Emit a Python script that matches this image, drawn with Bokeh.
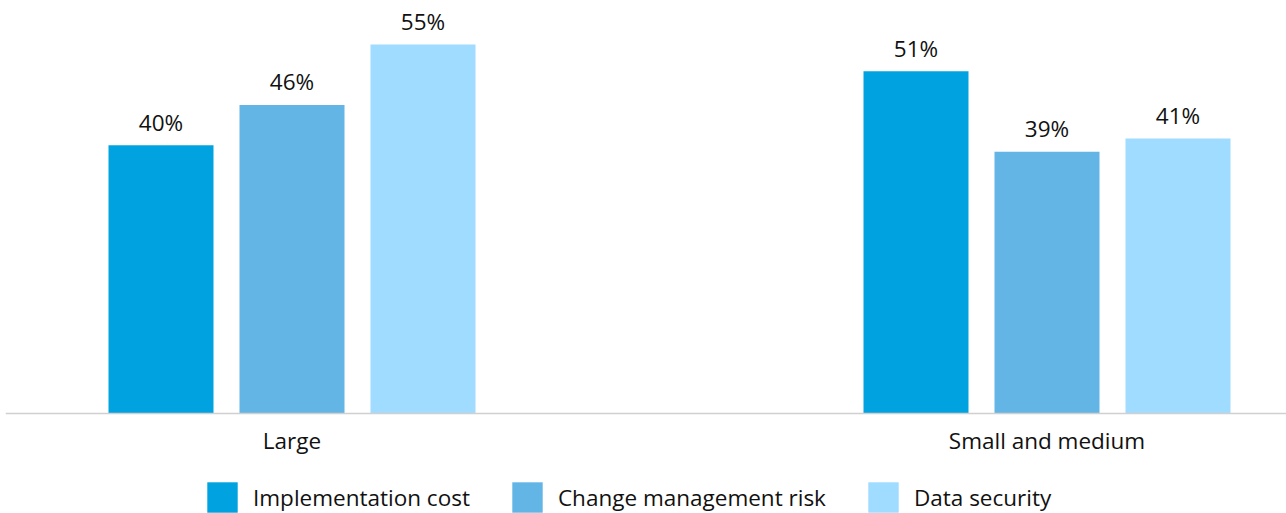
from bokeh.plotting import figure
from bokeh.models import ColumnDataSource, Range1d, LabelSet, Legend, LegendItem, Span
from bokeh.transform import dodge
from bokeh.core.properties import value
from bokeh.embed import file_html
from bokeh.resources import INLINE

groups = ["Large", "Small and medium"]
series = ["Implementation cost", "Change management risk", "Data security"]
impl_cost = [40, 51]
change_risk = [46, 39]
data_security = [55, 41]
colors = ["#00A3E0", "#62B5E5", "#A0DCFF"]

FONT = "Open Sans"
FS = "22.5px"
unit_px = 755.0
x_start = -286.5 / unit_px
x_end = x_start + 1281.0 / unit_px
px_per_pct = 369.0 / 55.0
y_start = -100.0 / px_per_pct
y_end = 413.0 / px_per_pct

p = figure(frame_width=1281, frame_height=513, output_backend="svg", toolbar_location=None,
           x_range=Range1d(x_start, x_end), y_range=Range1d(y_start, y_end),
           x_axis_location=None, y_axis_location=None, min_border_left=5, min_border_right=0,
           min_border_top=0, min_border_bottom=0)
p.outline_line_color = None
p.xgrid.visible = False
p.ygrid.visible = False
p.background_fill_color = "white"
p.border_fill_color = "white"

offsets = [-131 / unit_px, 0, 131 / unit_px]
bw = 105 / unit_px
items = []
for name, vals, col, off in zip(series, [impl_cost, change_risk, data_security], colors, offsets):
    src = ColumnDataSource(dict(x=list(range(len(groups))), v=vals, t=[f"{v}%" for v in vals]))
    r = p.vbar(x=dodge("x", off, range=p.x_range), top="v", width=bw, bottom=0,
               fill_color=col, line_color=None, source=src)
    items.append(LegendItem(label=name, renderers=[r]))
    lab = LabelSet(x=dodge("x", off, range=p.x_range), y="v", text="t", source=src,
                   text_align="center", text_baseline="alphabetic", y_offset=14.5,
                   text_font=value(FONT), text_font_size=FS, text_color="#111111")
    p.add_layout(lab)

# baseline (category axis line)
p.add_layout(Span(location=0, dimension="width", line_color="#d0d0d0", line_width=1.5))

# category labels
cat_src = ColumnDataSource(dict(x=list(range(len(groups))), y=[0] * len(groups), t=groups))
p.add_layout(LabelSet(x="x", y="y", text="t", source=cat_src, text_align="center",
                      text_baseline="alphabetic", y_offset=-35,
                      text_font=value(FONT), text_font_size=FS, text_color="#111111"))

legend = Legend(items=items, orientation="horizontal", location=(198, -3),
                glyph_width=38, glyph_height=38, label_standoff=12, spacing=38,
                label_text_font=FONT, label_text_font_size=FS, label_text_color="#111111",
                label_text_baseline="middle",
                border_line_color=None, background_fill_alpha=0, padding=0, margin=0)
legend.label_height = 38
p.add_layout(legend)

open("out.html", "w").write(file_html(p, INLINE))
